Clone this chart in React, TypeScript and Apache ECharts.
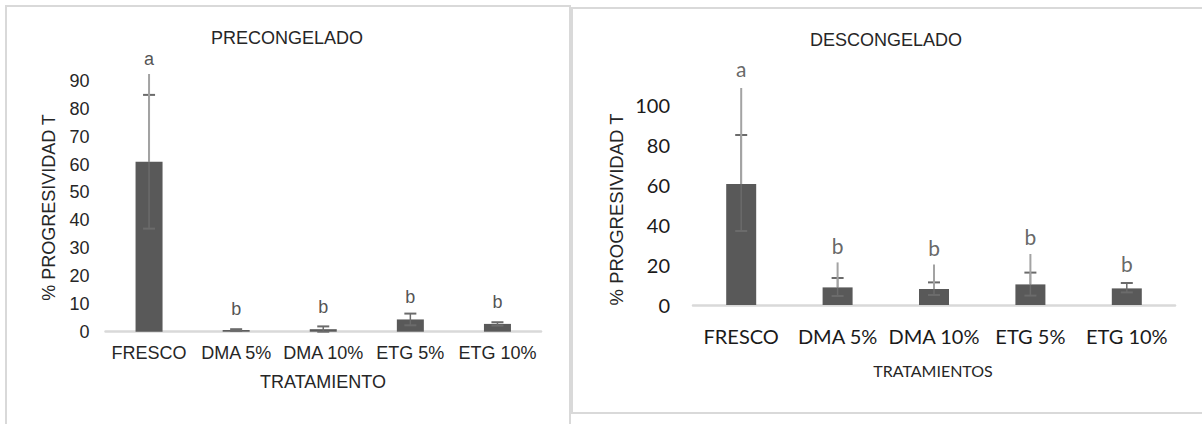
import React, { useEffect, useRef } from "react";
import * as echarts from "echarts";

const categories = ["FRESCO", "DMA 5%", "DMA 10%", "ETG 5%", "ETG 10%"];

// PRECONGELADO
const preValues = [61, 0.6, 0.9, 4.4, 2.8];
const preErrLow = [37, 0.3, 0, 2.3, 2.2];
const preErrHigh = [85, 0.9, 1.9, 6.5, 3.4];
const preErrMax = [92.5, 0.9, 1.9, 6.5, 3.4];
const preLetters = ["a", "b", "b", "b", "b"];
const preLetterY = [97.8, 8.1, 9.0, 12.5, 10.7];
const preTicks = [0, 10, 20, 30, 40, 50, 60, 70, 80, 90];

// DESCONGELADO
const desValues = [60.5, 8.8, 8.0, 10.3, 8.3];
const desErrLow = [37, 4.5, 5.0, 4.7, 6.3];
const desErrHigh = [85, 13.5, 11.3, 16.2, 11.0];
const desErrMax = [108.5, 21.3, 20.3, 25.5, 11.0];
const desLetters = ["a", "b", "b", "b", "b"];
const desLetterY = [118.5, 29.7, 28.9, 34.5, 20.9];
const desTicks = [0, 20, 40, 60, 80, 100];

const ARIAL = "'Liberation Sans', Arial, sans-serif";
const CALI = "Lato, 'Liberation Sans', sans-serif";

function errRender(capHalf: number) {
  return (params: any, api: any) => {
    const i = api.value(0);
    const pLow = api.coord([i, api.value(1)]);
    const pHigh = api.coord([i, api.value(2)]);
    const pVal = api.coord([i, api.value(3)]);
    const pMax = api.coord([i, api.value(4)]);
    const dark = "#6b6b6b";
    const light = "#a3a3a3";
    const children: any[] = [
      { type: "line", shape: { x1: pLow[0], y1: pLow[1], x2: pHigh[0], y2: pHigh[1] }, style: { stroke: dark, lineWidth: 1.5 } },
      { type: "line", shape: { x1: pLow[0] - capHalf, y1: pLow[1], x2: pLow[0] + capHalf, y2: pLow[1] }, style: { stroke: dark, lineWidth: 2 } },
      { type: "line", shape: { x1: pHigh[0] - capHalf, y1: pHigh[1], x2: pHigh[0] + capHalf, y2: pHigh[1] }, style: { stroke: dark, lineWidth: 2 } },
    ];
    if (api.value(4) > api.value(2)) {
      children.push({ type: "line", shape: { x1: pVal[0], y1: pVal[1], x2: pMax[0], y2: pMax[1] }, style: { stroke: light, lineWidth: 2 } });
    }
    return { type: "group", children };
  };
}

export default function App() {
  const ref = useRef<HTMLDivElement>(null);
  useEffect(() => {
    if (!ref.current) return;
    const chart = echarts.init(ref.current, undefined, { renderer: "svg" });
    const preErrData = categories.map((_, i) => [i, preErrLow[i], preErrHigh[i], preValues[i], preErrMax[i]]);
    const desErrData = categories.map((_, i) => [i, desErrLow[i], desErrHigh[i], desValues[i], desErrMax[i]]);
    const option: any = {
      animation: false,
      backgroundColor: "#ffffff",
      grid: [
        { left: 105.5, top: 53.1, width: 435.5, height: 278.6 },
        { left: 693, top: 65, width: 482, height: 240 },
      ],
      xAxis: [
        {
          gridIndex: 0,
          type: "category",
          data: categories,
          axisLine: { lineStyle: { color: "#d9d9d9", width: 2.5 } },
          axisTick: { show: false },
          axisLabel: { color: "#262626", fontFamily: ARIAL, fontSize: 18, margin: 12, interval: 0 },
        },
        {
          gridIndex: 1,
          type: "category",
          data: categories,
          axisLine: { lineStyle: { color: "#d9d9d9", width: 2.5 } },
          axisTick: { show: false },
          axisLabel: { color: "#1a1a1a", fontFamily: CALI, fontSize: 20, margin: 21, interval: 0 },
        },
      ],
      yAxis: [
        {
          gridIndex: 0,
          type: "value",
          min: 0,
          max: 100,
          interval: 10,
          axisLine: { show: false },
          axisTick: { show: false },
          splitLine: { show: false },
          axisLabel: {
            color: "#262626",
            fontFamily: ARIAL,
            fontSize: 18,
            margin: 16,
            formatter: (v: number) => (preTicks.includes(v) ? String(v) : ""),
          },
        },
        {
          gridIndex: 1,
          type: "value",
          min: 0,
          max: 120,
          interval: 20,
          axisLine: { show: false },
          axisTick: { show: false },
          splitLine: { show: false },
          axisLabel: {
            color: "#1a1a1a",
            fontFamily: CALI,
            fontSize: 20,
            margin: 23,
            formatter: (v: number) => (desTicks.includes(v) ? String(v) : ""),
          },
        },
      ],
      series: [
        {
          type: "bar",
          xAxisIndex: 0,
          yAxisIndex: 0,
          data: preValues,
          barWidth: 27,
          itemStyle: { color: "#595959" },
          z: 2,
        },
        {
          type: "custom",
          xAxisIndex: 0,
          yAxisIndex: 0,
          data: preErrData,
          encode: { x: 0, y: [1, 2, 4] },
          renderItem: errRender(6),
          z: 5,
        },
        {
          type: "scatter",
          xAxisIndex: 0,
          yAxisIndex: 0,
          symbolSize: 0,
          data: categories.map((_, i) => [i, preLetterY[i], preLetters[i]]),
          label: {
            show: true,
            position: "inside",
            formatter: (p: any) => p.data[2],
            color: "#262626",
            fontFamily: ARIAL,
            fontSize: 18,
          },
          z: 6,
        },
        {
          type: "bar",
          xAxisIndex: 1,
          yAxisIndex: 1,
          data: desValues,
          barWidth: 30,
          itemStyle: { color: "#595959" },
          z: 2,
        },
        {
          type: "custom",
          xAxisIndex: 1,
          yAxisIndex: 1,
          data: desErrData,
          encode: { x: 0, y: [1, 2, 4] },
          renderItem: errRender(6),
          z: 5,
        },
        {
          type: "scatter",
          xAxisIndex: 1,
          yAxisIndex: 1,
          symbolSize: 0,
          data: categories.map((_, i) => [i, desLetterY[i], desLetters[i]]),
          label: {
            show: true,
            position: "inside",
            formatter: (p: any) => p.data[2],
            color: "#404040",
            fontFamily: CALI,
            fontSize: 21,
          },
          z: 6,
        },
      ],
      graphic: [
        { type: "rect", shape: { x: 6, y: 6, width: 564, height: 440 }, style: { fill: "none", stroke: "#d9d9d9", lineWidth: 2 }, silent: true },
        { type: "rect", shape: { x: 572, y: 8, width: 660, height: 405 }, style: { fill: "none", stroke: "#d9d9d9", lineWidth: 2 }, silent: true },
        { type: "text", x: 287, y: 38, style: { text: "PRECONGELADO", font: `18px ${ARIAL}`, fill: "#262626", align: "center", verticalAlign: "middle" } },
        { type: "text", x: 886, y: 40, style: { text: "DESCONGELADO", font: `18px ${ARIAL}`, fill: "#262626", align: "center", verticalAlign: "middle" } },
        { type: "text", x: 49, y: 207.5, rotation: Math.PI / 2, style: { text: "% PROGRESIVIDAD T", font: `18px ${ARIAL}`, fill: "#262626", align: "center", verticalAlign: "middle" } },
        { type: "text", x: 616, y: 209.5, rotation: Math.PI / 2, style: { text: "% PROGRESIVIDAD T", font: `18.5px ${ARIAL}`, fill: "#262626", align: "center", verticalAlign: "middle" } },
        { type: "text", x: 323, y: 382, style: { text: "TRATAMIENTO", font: `18px ${ARIAL}`, fill: "#262626", align: "center", verticalAlign: "middle" } },
        { type: "text", x: 933, y: 370, style: { text: "TRATAMIENTOS", font: `16px ${CALI}`, fill: "#262626", align: "center", verticalAlign: "middle" } },
      ],
    };
    chart.setOption(option);
    return () => chart.dispose();
  }, []);
  return (
    <div
      ref={ref}
      style={{ position: "fixed", left: 0, top: 0, width: 1202, height: 424, background: "#fff" }}
    />
  );
}
